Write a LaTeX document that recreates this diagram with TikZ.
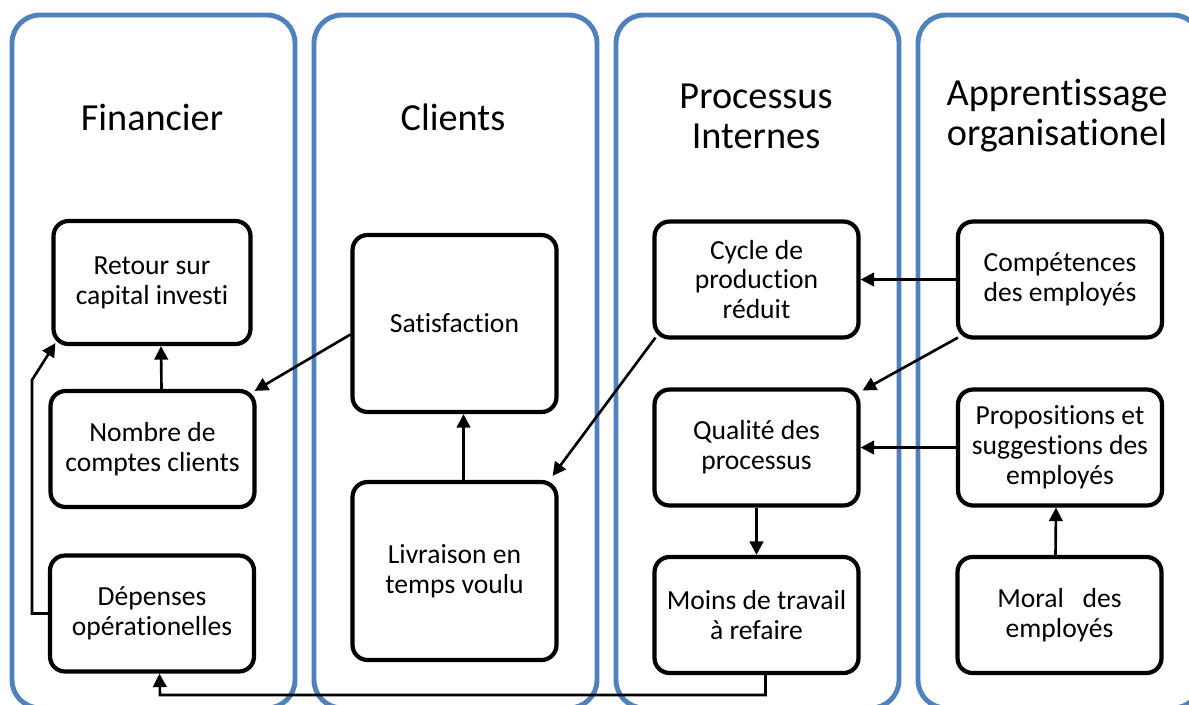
\documentclass[tikz,border=0pt]{standalone}
\usepackage{fontspec}
\setmainfont{Carlito}[Ligatures={NoCommon}]
\usetikzlibrary{arrows.meta}
\definecolor{laneblue}{RGB}{79,129,189}
\tikzset{
  lane border/.style={
    draw=laneblue,
    line width=2.8pt,
    rounded corners=0.56cm
  },
  lane title/.style={
    align=center,
    font=\fontsize{21.8}{22.7}\selectfont
  },
  kpi box/.style={
    draw,
    line width=2.4pt,
    rounded corners=0.3cm,
    align=center,
    inner sep=2pt,
    minimum width=4.08cm,
    minimum height=2.32cm,
    font=\fontsize{15.7}{17}\selectfont
  },
  kpi link/.style={
    line width=1.5pt,
    -{Triangle[length=0.27cm,width=0.27cm]}
  }
}

\begin{document}
\begin{tikzpicture}[x=0.02cm,y=-0.02cm]
\useasboundingbox (0,0) rectangle (1189,704);
\clip (0,0) rectangle (1189,704);
% lanes
\foreach \lx in {12,314,616,918}
  \draw[lane border] (\lx,15) rectangle ++(283,693);
\node[lane title] (fin)  at (152,117) {Financier};
\node[lane title] (cli)  at (453,117) {Clients};
\node[lane title] (proc) at (756,116) {Processus\\Internes};
\node[lane title] (appr) at (1057,116) {Apprentissage\\organisationel};
% boxes
\node[kpi box, minimum width=3.94cm, minimum height=2.46cm] (retour) at (152,282.5) {Retour sur\\capital investi};
\node[kpi box] (nombre)   at (152.5,449) {Nombre de\\comptes clients};
\node[kpi box] (depenses) at (152,613.5) {Dépenses\\opérationelles};
\node[kpi box, minimum height=3.54cm] (satisfaction) at (454.5,323.5) {Satisfaction};
\node[kpi box, minimum height=3.56cm] (livraison)    at (454.5,571)   {Livraison en\\temps voulu};
\node[kpi box] (cycle)   at (756.5,279.5) {Cycle de\\production\\réduit};
\node[kpi box] (qualite) at (756.5,447.5) {Qualité des\\processus};
\node[kpi box] (moins)   at (756.5,615)   {Moins de travail\\à refaire};
\node[kpi box] (competences)  at (1060,279.5) {Compétences\\des employés};
\node[kpi box] (propositions) at (1060,447.5) {Propositions et\\suggestions des\\employés};
\node[kpi box] (moral)        at (1059.5,615) {Moral\ \ \ des\\employés};
% bends
\coordinate (bendA) at (32,380);
\coordinate (bendB) at (160,695);
% links
\draw[kpi link] ([xshift=0.18cm]nombre.north) -- ([xshift=0.18cm]retour.south);
\draw[kpi link] (depenses.west) -| (bendA) -- ([xshift=0.08cm,yshift=0.06cm]retour.south west);
\draw[kpi link] ([yshift=-0.22cm]satisfaction.west) -- ([xshift=-0.04cm,yshift=-0.04cm]nombre.north east);
\draw[kpi link] ([xshift=0.18cm]livraison.north) -- ([xshift=0.18cm]satisfaction.south);
\draw[kpi link] ([xshift=0.06cm,yshift=0.04cm]cycle.south west) -- ([xshift=-0.12cm,yshift=0.08cm]livraison.north east);
\draw[kpi link] (competences.west) -- (competences.west -| cycle.east);
\draw[kpi link] ([xshift=0.04cm,yshift=0.04cm]competences.south west) -- ([xshift=0.04cm,yshift=-0.06cm]qualite.north east);
\draw[kpi link] (propositions.west) -- (propositions.west -| qualite.east);
\draw[kpi link] ([xshift=-0.08cm]moral.north) -- ([xshift=-0.08cm]propositions.south);
\draw[kpi link] (qualite.south) -- (moins.north);
\draw[kpi link] ([xshift=0.18cm]moins.south) |- (bendB) -- ([xshift=0.15cm]depenses.south);
\end{tikzpicture}
\end{document}
